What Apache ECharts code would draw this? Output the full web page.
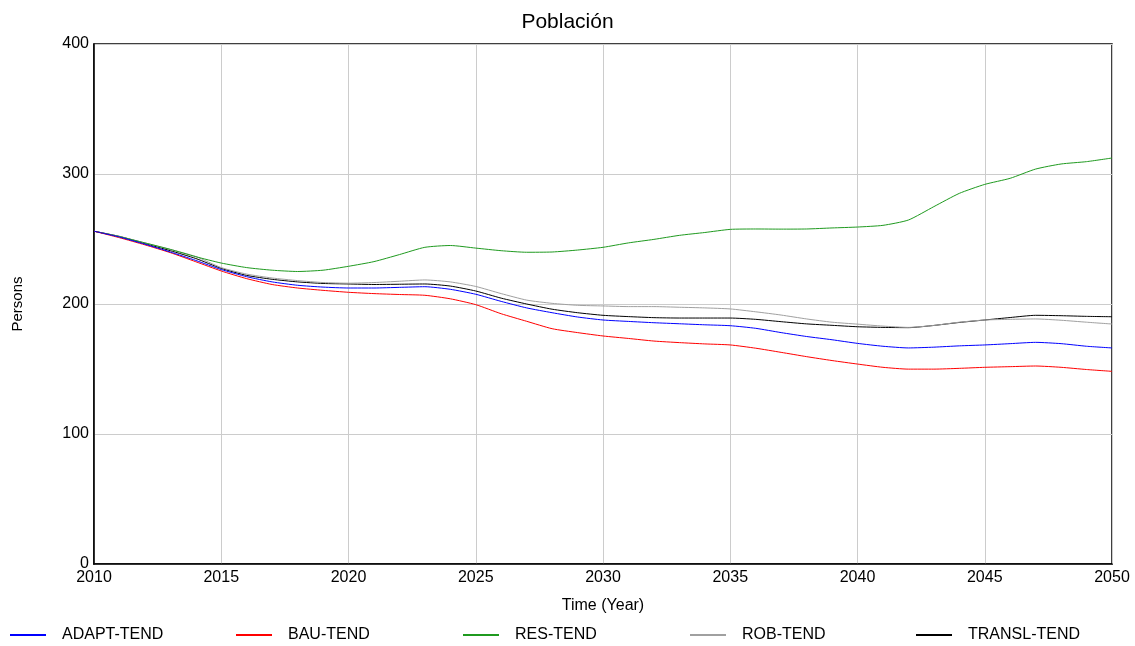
<!DOCTYPE html>
<html>
<head>
<meta charset="utf-8">
<script src="https://cdn.jsdelivr.net/npm/echarts@6/dist/echarts.min.js"></script>
<style>
html, body { margin: 0; padding: 0; background: #fff; }
#main { width: 1135px; height: 646px; }
</style>
</head>
<body>
<div id="main"></div>
<script>
var years = [];
for (var y = 2010; y <= 2050; y++) years.push(y);

var adapt = [256, 251.5, 246, 240, 233.5, 226.5, 221, 217, 214.4, 213, 212.3, 212.3, 212.8, 213.3, 211.3, 207.5, 202, 197, 193.3, 190, 187.7,
    186.6, 185.6, 184.8, 184, 183.3, 181.3, 178, 175, 172.5, 169.7, 167.5, 166.2, 166.8, 167.8, 168.5, 169.5, 170.5, 169.5, 167.5, 166.2];
var bau = [256, 251, 245.5, 239.5, 232.5, 225.4, 219.5, 215, 212.3, 210.5, 209, 208, 207.3, 206.7, 204, 199.5, 192.5, 186.7, 181, 178, 175.4,
    173.5, 171.5, 170.3, 169.3, 168.5, 166, 162.8, 159.5, 156.5, 153.8, 151.3, 149.9, 149.9, 150.5, 151.3, 151.8, 152.3, 151.3, 149.6, 148.2];
var res = [256, 251.8, 247, 242, 236.4, 231.5, 228, 226, 225, 226, 229, 232.6, 238, 243.6, 245, 243, 241, 239.8, 240, 241.5, 243.6,
    247, 249.7, 252.8, 255, 257.4, 257.7, 257.6, 257.7, 258.5, 259.2, 260.5, 264.6, 274.9, 285.1, 292, 296.7, 303.8, 307.7, 309.5, 312.3];
var rob = [256, 252, 247, 242, 236.5, 228, 223, 220, 218, 216.5, 216, 216.5, 217.5, 218.5, 217, 213.5, 208, 203, 200.5, 199, 198.5,
    198, 198, 197.5, 197, 196.2, 194, 191.5, 188.5, 186, 184.5, 183, 182, 183.5, 186, 187.7, 188.2, 188.5, 187.5, 186, 184.6];
var transl = [256, 252, 246.5, 241, 235, 227.4, 222, 219, 217, 215.8, 215.4, 215, 215.2, 215.4, 213.8, 210, 204.5, 200, 196, 193.3, 191.3,
    190.3, 189.5, 189.2, 189.2, 189.2, 188.2, 186.4, 184.7, 183.6, 182.5, 182, 181.8, 183.5, 185.8, 187.7, 189.6, 191.3, 191, 190.5, 190.2];

var seriesNames = ['ADAPT-TEND', 'BAU-TEND', 'RES-TEND', 'ROB-TEND', 'TRANSL-TEND'];
var seriesValues = [adapt, bau, res, rob, transl];
var seriesColors = ['#0000ff', '#ff0000', '#1f9a1f', '#a0a0a0', '#000000'];
var legendLeft = [10, 236, 463, 690, 916];

var font = 'Liberation Sans, Arial, sans-serif';

var series = [];
var legends = [];
for (var i = 0; i < seriesNames.length; i++) {
    var pts = [];
    for (var j = 0; j < years.length; j++) pts.push([years[j], seriesValues[i][j]]);
    series.push({
        name: seriesNames[i],
        type: 'line',
        data: pts,
        showSymbol: false,
        smooth: 0.2,
        z: 10 - i,
        lineStyle: { color: seriesColors[i], width: 1 },
        itemStyle: { color: seriesColors[i] }
    });
    legends.push({
        data: [seriesNames[i]],
        left: legendLeft[i],
        top: 627,
        padding: 0,
        icon: 'rect',
        itemWidth: 36,
        itemHeight: 2,
        itemGap: 0,
        textStyle: { fontFamily: font, fontSize: 16, color: '#000', padding: [0, 0, 0, 11] },
        selectedMode: false
    });
}

var chart = echarts.init(document.getElementById('main'));
chart.setOption({
    animation: false,
    backgroundColor: '#fff',
    title: {
        text: 'Población',
        left: 'center',
        top: 7,
        textStyle: { fontFamily: font, fontSize: 21, fontWeight: 'normal', color: '#000' }
    },
    legend: legends,
    grid: {
        left: 94, right: 23, top: 44, bottom: 82,
        show: true,
        borderColor: '#000',
        borderWidth: 1.5
    },
    xAxis: {
        type: 'value',
        min: 2010,
        max: 2050,
        interval: 5,
        name: 'Time (Year)',
        nameLocation: 'middle',
        nameGap: 34,
        nameTextStyle: { fontFamily: font, fontSize: 16, color: '#000' },
        axisLine: { lineStyle: { color: '#000', width: 1.5 } },
        axisTick: { show: false },
        axisLabel: {
            fontFamily: font, fontSize: 16, color: '#000', margin: 6,
            formatter: function (v) { return String(v); }
        },
        splitLine: { show: true, lineStyle: { color: '#cccccc', width: 1 } }
    },
    yAxis: {
        type: 'value',
        min: 0,
        max: 400,
        interval: 100,
        name: 'Persons',
        nameLocation: 'middle',
        nameGap: 69,
        nameTextStyle: { fontFamily: font, fontSize: 15, color: '#000' },
        axisLine: { show: true, lineStyle: { color: '#000', width: 1.5 } },
        axisTick: { show: false },
        axisLabel: { fontFamily: font, fontSize: 16, color: '#000', margin: 5 },
        splitLine: { show: true, lineStyle: { color: '#cccccc', width: 1 } }
    },
    series: series
});
</script>
</body>
</html>
